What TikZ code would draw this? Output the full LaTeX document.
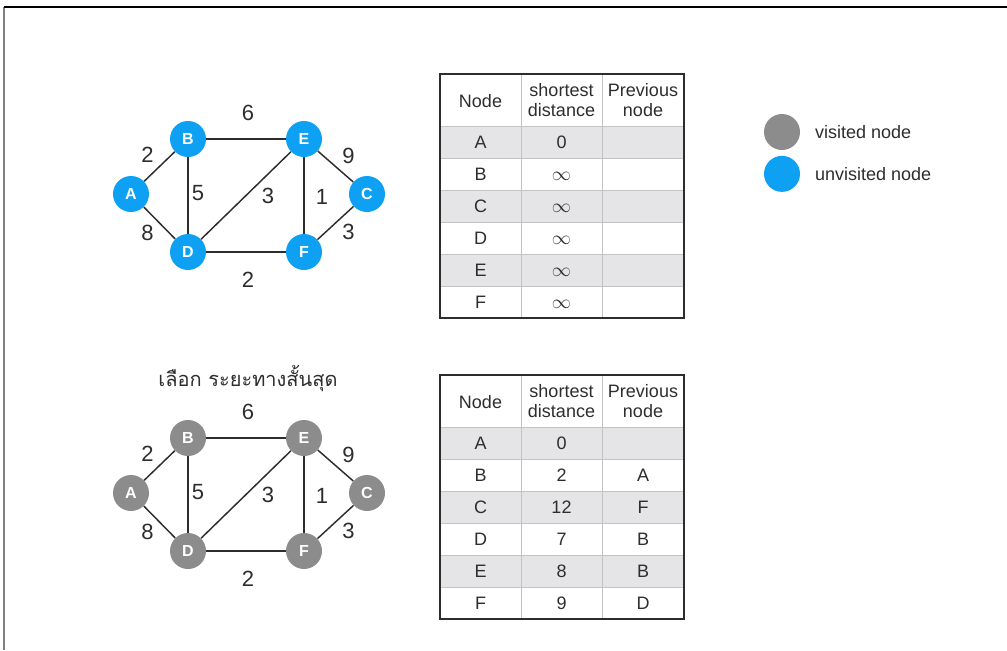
\documentclass[tikz,border=0pt]{standalone}
\usepackage{fontspec}
\setmainfont{Liberation Sans}
\newfontfamily\thaifont[Script=Thai]{Loma}
\usetikzlibrary{positioning}
\definecolor{nodeblue}{RGB}{14,160,242}
\definecolor{nodegray}{RGB}{140,140,140}
\definecolor{rowgray}{RGB}{229,229,232}
\definecolor{inkgray}{RGB}{45,45,45}
\definecolor{linegray}{RGB}{195,195,195}

\begin{document}
\begin{tikzpicture}[x=0.75pt, y=-0.75pt,
        vnode/.style={circle, fill=nodegray, minimum size=27pt, inner sep=0pt,
                      text=white, font=\bfseries\fontsize{12}{13}\selectfont},
        unode/.style={vnode, fill=nodeblue},
        edgeline/.style={draw=inkgray, line width=1.1pt},
        wlab/.style={font=\fontsize{16.5}{18}\selectfont, text=inkgray, inner sep=0pt},
        cell/.style={font=\fontsize{13.5}{16}\selectfont, text=inkgray, inner sep=0pt,
                     text height=9.7pt, text depth=0pt},
        hdr/.style={font=\fontsize{13.5}{15.5}\selectfont, text=inkgray, inner sep=0pt,
                    align=center},
        gridline/.style={draw=linegray, line width=0.7pt},
        tableframe/.style={draw=inkgray, line width=1pt},
        keytext/.style={font=\fontsize{13.5}{16}\selectfont, text=inkgray, inner sep=0pt}]
    \useasboundingbox (0,0) rectangle (1007,650);
    % frame
    \draw[gray, line width=1pt] (4,7) -- (4,650);
    \draw[black, line width=1pt] (4,7) -- (1007,7);

    % graphs: u = unvisited, v = visited
    \foreach \g/\sty/\dy in {u/unode/0, v/vnode/299}{
        \begin{scope}[shift={(0,\dy)}]
            \node[\sty] (\g A) at (131,194) {A};
            \node[\sty] (\g B) at (188,139) {B};
            \node[\sty] (\g E) at (304,139) {E};
            \node[\sty] (\g C) at (367,194) {C};
            \node[\sty] (\g D) at (188,252) {D};
            \node[\sty] (\g F) at (304,252) {F};
        \end{scope}
        \foreach \s/\t/\w/\lx/\ly in {A/B/2/-12/-12, A/D/8/-12/10, B/E/6/2/-26,
                B/D/5/10/-2, D/E/3/22/0, E/F/1/18/1, E/C/9/13/-11,
                C/F/3/13/9, D/F/2/2/28}
            \draw[edgeline] (\g\s) -- node[wlab, shift={(\lx,\ly)}] {\w} (\g\t);
    }
    \node[font=\thaifont\fontsize{15}{18}\selectfont, text=inkgray, inner sep=0pt]
        (title) at (248,379) {เลือก ระยะทางสั้นสุด};

    % tables
    \foreach \tb/\ty in {t/74, s/375}{
        \begin{scope}[shift={(0,\ty)}]
            \foreach \r in {1,3,5}
                \fill[rowgray] (440,20+32*\r) rectangle (684,52+32*\r);
            \foreach \r in {0,...,5}
                \draw[gridline] (440,52+32*\r) -- (684,52+32*\r);
            \draw[gridline] (521,0) -- (521,244);
            \draw[gridline] (602,0) -- (602,244);
            \draw[tableframe] (440,0) rectangle (684,244);
            \node[hdr] (\tb-h1) at (480.5,27) {Node};
            \node[hdr] (\tb-h2) at (561.5,26) {shortest\\distance};
            \node[hdr] (\tb-h3) at (643,26) {Previous\\node};
        \end{scope}
    }
    \foreach \r/\n/\d/\p in {1/A/0/, 2/B/$\infty$/, 3/C/$\infty$/,
            4/D/$\infty$/, 5/E/$\infty$/, 6/F/$\infty$/}{
        \node[cell] (t-\r-1) at (480.5,110+32*\r) {\n};
        \node[cell] (t-\r-2) at (561.5,110+32*\r) {\d};
        \node[cell] (t-\r-3) at (643,110+32*\r) {\p};
    }
    \foreach \r/\n/\d/\p in {1/A/0/, 2/B/2/A, 3/C/12/F,
            4/D/7/B, 5/E/8/B, 6/F/9/D}{
        \node[cell] (s-\r-1) at (480.5,411+32*\r) {\n};
        \node[cell] (s-\r-2) at (561.5,411+32*\r) {\d};
        \node[cell] (s-\r-3) at (643,411+32*\r) {\p};
    }

    % legend
    \node[vnode] (keyv) at (782,132) {};
    \node[unode, below=4pt of keyv] (keyu) {};
    \node[keytext, right=11pt of keyv] (keyvt) {visited node};
    \node[keytext, right=11pt of keyu] (keyut) {unvisited node};
\end{tikzpicture}
\end{document}
